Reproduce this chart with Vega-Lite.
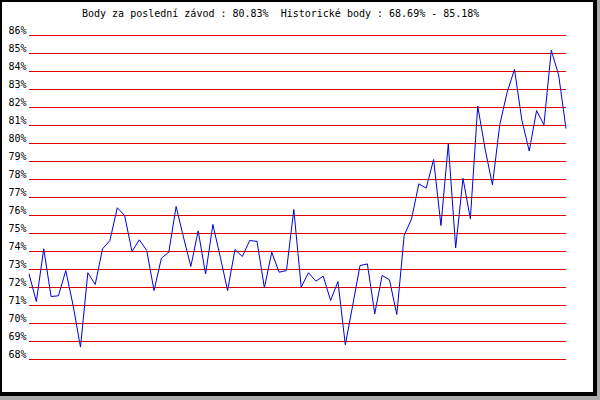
{
  "$schema": "https://vega.github.io/schema/vega-lite/v6.json",
  "width": 595,
  "height": 394,
  "autosize": {"type": "none"},
  "padding": {"left": 0, "top": 0, "right": 5, "bottom": 6},
  "background": "#aaaaaa",
  "config": {
    "view": {"fill": "white", "stroke": "black", "strokeWidth": 4},
    "font": "DejaVu Sans Mono",
    "axisY": {"labelOverlap": false, "labelFlush": false}
  },
  "title": {
    "text": "Body za poslední závod : 80.83%\u00a0 Historické body : 68.69% - 85.18%",
    "anchor": "start",
    "dx": 82,
    "offset": -27,
    "baseline": "alphabetic",
    "font": "DejaVu Sans Mono",
    "fontSize": 10,
    "fontWeight": "normal",
    "color": "black"
  },
  "datasets": {
    "levels": [
      {"v": 68}, {"v": 69}, {"v": 70}, {"v": 71}, {"v": 72}, {"v": 73}, {"v": 74},
      {"v": 75}, {"v": 76}, {"v": 77}, {"v": 78}, {"v": 79}, {"v": 80}, {"v": 81},
      {"v": 82}, {"v": 83}, {"v": 84}, {"v": 85}, {"v": 86}
    ],
    "scores": [
      {"i": 0, "v": 72.76}, {"i": 1, "v": 71.22}, {"i": 2, "v": 74.15}, {"i": 3, "v": 71.5},
      {"i": 4, "v": 71.54}, {"i": 5, "v": 72.94}, {"i": 6, "v": 71.0}, {"i": 7, "v": 68.69},
      {"i": 8, "v": 72.82}, {"i": 9, "v": 72.17}, {"i": 10, "v": 74.15}, {"i": 11, "v": 74.61},
      {"i": 12, "v": 76.43}, {"i": 13, "v": 76.0}, {"i": 14, "v": 74.0}, {"i": 15, "v": 74.65},
      {"i": 16, "v": 74.06}, {"i": 17, "v": 71.83}, {"i": 18, "v": 73.63}, {"i": 19, "v": 73.96},
      {"i": 20, "v": 76.5}, {"i": 21, "v": 74.8}, {"i": 22, "v": 73.17}, {"i": 23, "v": 75.15},
      {"i": 24, "v": 72.75}, {"i": 25, "v": 75.5}, {"i": 26, "v": 73.7}, {"i": 27, "v": 71.83},
      {"i": 28, "v": 74.11}, {"i": 29, "v": 73.72}, {"i": 30, "v": 74.61}, {"i": 31, "v": 74.56},
      {"i": 32, "v": 71.98}, {"i": 33, "v": 73.96}, {"i": 34, "v": 72.85}, {"i": 35, "v": 72.94},
      {"i": 36, "v": 76.33}, {"i": 37, "v": 72.02}, {"i": 38, "v": 72.82}, {"i": 39, "v": 72.35},
      {"i": 40, "v": 72.63}, {"i": 41, "v": 71.28}, {"i": 42, "v": 72.33}, {"i": 43, "v": 68.82},
      {"i": 44, "v": 71.0}, {"i": 45, "v": 73.22}, {"i": 46, "v": 73.31}, {"i": 47, "v": 70.54},
      {"i": 48, "v": 72.67}, {"i": 49, "v": 72.43}, {"i": 50, "v": 70.5}, {"i": 51, "v": 74.89},
      {"i": 52, "v": 75.81}, {"i": 53, "v": 77.76}, {"i": 54, "v": 77.52}, {"i": 55, "v": 79.11},
      {"i": 56, "v": 75.44}, {"i": 57, "v": 79.98}, {"i": 58, "v": 74.2}, {"i": 59, "v": 78.07},
      {"i": 60, "v": 75.81}, {"i": 61, "v": 82.08}, {"i": 62, "v": 79.7}, {"i": 63, "v": 77.7},
      {"i": 64, "v": 81.05}, {"i": 65, "v": 82.85}, {"i": 66, "v": 84.12}, {"i": 67, "v": 81.3},
      {"i": 68, "v": 79.58}, {"i": 69, "v": 81.83}, {"i": 70, "v": 81.04}, {"i": 71, "v": 85.18},
      {"i": 72, "v": 83.8}, {"i": 73, "v": 80.83}
    ]
  },
  "encoding": {
    "y": {
      "field": "v",
      "type": "quantitative",
      "scale": {"domain": [68, 86], "range": [359.5, 35.5], "zero": false, "nice": false},
      "axis": {
        "title": null,
        "values": [68, 69, 70, 71, 72, 73, 74, 75, 76, 77, 78, 79, 80, 81, 82, 83, 84, 85, 86],
        "labelExpr": "datum.value + '%'",
        "offset": -29,
        "labelPadding": 3,
        "ticks": false,
        "domain": false,
        "grid": false,
        "labelFont": "DejaVu Sans Mono",
        "labelFontSize": 10,
        "labelColor": "black",
        "labelBaseline": "alphabetic",
        "labelOffset": -2,
        "labelFlush": false,
        "labelOverlap": false
      }
    }
  },
  "layer": [
    {
      "data": {"name": "levels"},
      "mark": {"type": "rule", "color": "#e00000", "strokeWidth": 1},
      "encoding": {
        "x": {
          "datum": 0,
          "type": "quantitative",
          "scale": {"domain": [0, 73], "range": [29, 566], "zero": false, "nice": false},
          "axis": null
        },
        "x2": {"datum": 73}
      }
    },
    {
      "data": {"name": "scores"},
      "mark": {"type": "line", "color": "#0000dd", "strokeWidth": 1},
      "encoding": {
        "x": {"field": "i", "type": "quantitative", "axis": null}
      }
    }
  ]
}
